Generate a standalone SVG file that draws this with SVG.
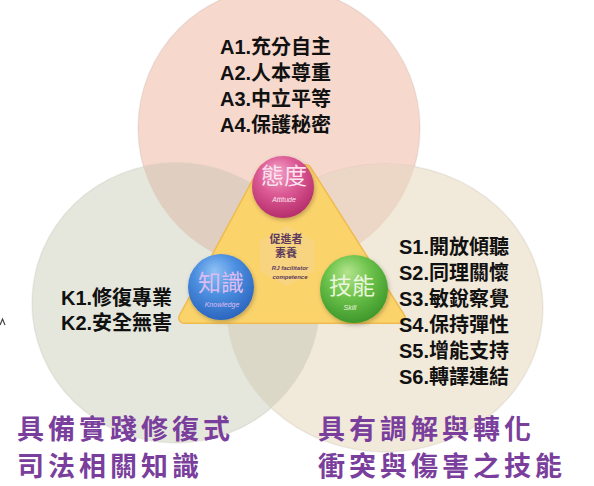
<svg xmlns="http://www.w3.org/2000/svg" width="594" height="486" viewBox="0 0 594 486">
<defs>
<style>
.item{font-family:"Liberation Sans","Noto Sans CJK TC","Noto Sans CJK SC",sans-serif;font-size:20px;font-weight:700;fill:#111;}
.title{font-family:"Liberation Sans","Noto Sans CJK TC","Noto Sans CJK SC",sans-serif;font-size:27px;font-weight:700;fill:#7a3f9c;letter-spacing:4px;}
.ballt{font-family:"Liberation Sans","Noto Sans CJK TC","Noto Sans CJK SC",sans-serif;font-size:23px;font-weight:400;text-anchor:middle;}
.balls{font-family:"Liberation Sans",sans-serif;font-size:7px;font-style:italic;text-anchor:middle;}
.ctr{font-family:"Liberation Sans","Noto Sans CJK TC","Noto Sans CJK SC",sans-serif;font-weight:700;fill:#5e3a5e;text-anchor:middle;}
.rim{stroke:#8a7a6a;stroke-opacity:0.12;stroke-width:1.5;}
</style>
<clipPath id="cpP"><circle cx="279" cy="128" r="141"/></clipPath>
<clipPath id="cpL"><ellipse cx="176" cy="303" rx="144" ry="140"/></clipPath>
<clipPath id="cpR"><ellipse cx="385" cy="308" rx="158" ry="144"/></clipPath>
<radialGradient id="gPink" cx="0.45" cy="0.35" r="0.65" fx="0.4" fy="0.25">
<stop offset="0" stop-color="#f2a4c8"/><stop offset="0.5" stop-color="#dc5a95"/><stop offset="1" stop-color="#b62f6c"/>
</radialGradient>
<radialGradient id="gBlue" cx="0.45" cy="0.35" r="0.65" fx="0.4" fy="0.25">
<stop offset="0" stop-color="#8ec1f5"/><stop offset="0.5" stop-color="#4c8fe0"/><stop offset="1" stop-color="#2b66bf"/>
</radialGradient>
<radialGradient id="gGreen" cx="0.45" cy="0.35" r="0.65" fx="0.4" fy="0.25">
<stop offset="0" stop-color="#b4e48e"/><stop offset="0.5" stop-color="#6cc24a"/><stop offset="1" stop-color="#3e982c"/>
</radialGradient>
<filter id="sh" x="-30%" y="-30%" width="160%" height="160%">
<feDropShadow dx="1" dy="2" stdDeviation="2" flood-color="#000" flood-opacity="0.25"/>
</filter>
</defs>

<rect width="594" height="486" fill="#ffffff"/>

<g id="circle-attitude">
<circle cx="279" cy="128" r="141" fill="#f6d8cd" class="rim"/>
</g>
<g id="circle-knowledge">
<ellipse cx="176" cy="303" rx="144" ry="140" fill="#e5e7dd" class="rim"/>
</g>
<g id="circle-skill">
<ellipse cx="385" cy="308" rx="158" ry="144" fill="#f1e9d9" class="rim"/>
</g>
<g id="overlaps">
<ellipse cx="176" cy="303" rx="144" ry="140" fill="#e0cfc1" clip-path="url(#cpP)"/>
<ellipse cx="385" cy="308" rx="158" ry="144" fill="#ecd6c5" clip-path="url(#cpP)"/>
<g clip-path="url(#cpL)">
<ellipse cx="385" cy="308" rx="158" ry="144" fill="#dcd8c7"/>
<circle cx="279" cy="128" r="141" fill="#d8c8b8" clip-path="url(#cpR)"/>
</g>
</g>

<g id="connectors"/>

<g id="triangle">
<polygon points="264,170 306,170 400,318 184,318" fill="#fbd36b" stroke="#efbb4e" stroke-width="12" stroke-linejoin="round"/>
<polygon points="264,170 306,170 400,318 184,318" fill="#fbd36b" stroke="#fbd36b" stroke-width="9" stroke-linejoin="round"/>
<polygon points="287,226 314,241 314,271 287,286 260,271 260,241" fill="#f6d68e" opacity="0.6"/>
<text class="ctr" x="286" y="243" font-size="11">促進者</text>
<text class="ctr" x="286" y="257" font-size="11">素養</text>
<text class="ctr" x="290" y="270" font-size="6" font-style="italic">RJ facilitator</text>
<text class="ctr" x="290" y="279" font-size="6" font-style="italic">competence</text>
</g>

<g id="ball-attitude">
<circle cx="283" cy="187" r="31" fill="url(#gPink)" filter="url(#sh)"/>
<text class="ballt" x="284" y="184" fill="#fbe3ef">態度</text>
<text class="balls" x="284" y="202" fill="#fbe3ef">Attitude</text>
</g>
<g id="ball-knowledge">
<circle cx="221" cy="287" r="33" fill="url(#gBlue)" filter="url(#sh)"/>
<text class="ballt" x="221" y="291" fill="#dcbcf2">知識</text>
<text class="balls" x="222" y="307" fill="#dcbcf2">Knowledge</text>
</g>
<g id="ball-skill">
<circle cx="354" cy="289" r="34" fill="url(#gGreen)" filter="url(#sh)"/>
<text class="ballt" x="352" y="294" fill="#eaf6dc">技能</text>
<text class="balls" x="350" y="310" fill="#eaf6dc">Skill</text>
</g>

<g id="list-attitude">
<text class="item" x="220" y="54">A1.充分自主</text>
<text class="item" x="220" y="80">A2.人本尊重</text>
<text class="item" x="220" y="106">A3.中立平等</text>
<text class="item" x="220" y="132">A4.保護秘密</text>
</g>
<g id="list-knowledge">
<text class="item" x="61" y="305">K1.修復專業</text>
<text class="item" x="61" y="330">K2.安全無害</text>
</g>
<g id="list-skill">
<text class="item" x="399" y="254">S1.開放傾聽</text>
<text class="item" x="399" y="280">S2.同理關懷</text>
<text class="item" x="399" y="306">S3.敏銳察覺</text>
<text class="item" x="399" y="332">S4.保持彈性</text>
<text class="item" x="399" y="358">S5.增能支持</text>
<text class="item" x="399" y="384">S6.轉譯連結</text>
</g>

<g id="title-knowledge">
<text class="title" x="17" y="439">具備實踐修復式</text>
<text class="title" x="17" y="476">司法相關知識</text>
</g>
<g id="title-skill">
<text class="title" x="318" y="439">具有調解與轉化</text>
<text class="title" x="318" y="476">衝突與傷害之技能</text>
</g>

<path d="M0,325 L2.5,319 L5,325" fill="none" stroke="#444" stroke-width="1.2"/>
</svg>
